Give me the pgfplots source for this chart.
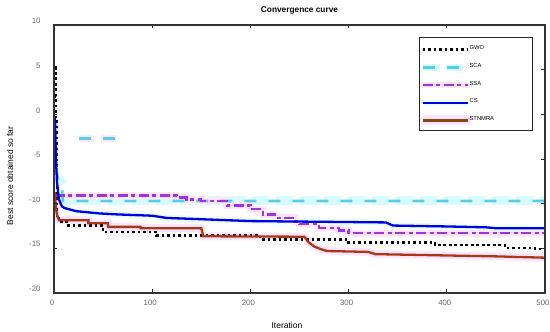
\documentclass[border=0pt]{standalone}
\usepackage{pgfplots}
\pgfplotsset{compat=1.18}
\usepackage{fontspec}
\setmainfont{Liberation Sans}
\definecolor{sca}{RGB}{85,205,235}
\definecolor{scahalo}{RGB}{215,252,255}
\definecolor{ssa}{RGB}{160,50,230}
\definecolor{pinkhalo}{RGB}{255,230,252}
\definecolor{cs}{RGB}{0,0,225}
\definecolor{cshalo}{RGB}{232,253,255}
\definecolor{stn}{RGB}{170,55,20}
\definecolor{stnleg}{RGB}{140,70,20}
\pgfplotsset{
  leggwo/.style={legend image code/.code={\path[use as bounding box, draw=none, fill=none] (0pt,-6pt) rectangle (45pt,6pt); \draw[##1] (0pt,-1pt)--(45pt,-1pt);}},
  legsca/.style={legend image code/.code={\path[use as bounding box, draw=none, fill=none] (0pt,-6pt) rectangle (45pt,6pt); \draw[scahalo, line width=7pt, dash pattern=on 17pt off 6pt] (0pt,-1pt)--(45pt,-1pt); \draw[##1] (0pt,-1pt)--(45pt,-1pt);}},
  legssa/.style={legend image code/.code={\path[use as bounding box, draw=none, fill=none] (0pt,-6pt) rectangle (45pt,6pt); \draw[pinkhalo, line width=6pt, solid] (0pt,-1pt)--(45pt,-1pt); \draw[##1] (0pt,-1pt)--(45pt,-1pt);}},
  legcs/.style={legend image code/.code={\path[use as bounding box, draw=none, fill=none] (0pt,-6pt) rectangle (45pt,6pt); \draw[cshalo, line width=6pt] (0pt,-1pt)--(45pt,-1pt); \draw[##1] (0pt,-1pt)--(45pt,-1pt);}},
  legstn/.style={legend image code/.code={\path[use as bounding box, draw=none, fill=none] (0pt,-6pt) rectangle (45pt,6pt); \draw[pinkhalo, line width=10pt] (0pt,-1pt)--(48pt,-1pt); \draw[##1, draw=stnleg] (0pt,-1pt)--(45pt,-1pt);}},
}
\begin{document}
\begin{tikzpicture}
\begin{axis}[
  at={(0,0)}, anchor=south west,
  scale only axis, width=491pt, height=268pt,
  xmin=0, xmax=500, ymin=-20, ymax=10,
  xtick={0,100,...,500}, ytick={-20,-15,...,10},
  tick align=inside, major tick length=3.5pt,
  axis line style={draw=black!80, line width=1.3pt},
  tick style={draw=black!85, line width=0.7pt},
  ticklabel style={font=\fontsize{7.8}{9}\selectfont, text=black!60},
  /pgf/number format/assume math mode=true,
  xticklabel style={yshift=-4pt, xshift=-2pt},
  yticklabel style={xshift=-10pt, yshift=4pt},
  title={\bfseries Convergence curve},
  title style={font=\fontsize{8.3}{9}\selectfont, at={(axis description cs:0.5,1)}, anchor=south, inner sep=0pt, yshift=5pt},
  xlabel={Iteration},
  xlabel style={font=\fontsize{8.5}{9}\selectfont, at={(axis description cs:0.4745,0)}, anchor=center, yshift=-32pt},
  ylabel={Best score obtained so far},
  ylabel style={font=\fontsize{8.5}{9}\selectfont, at={(axis description cs:-0.0896,0.437)}, anchor=center},
  legend style={at={(axis description cs:0.9756,0.955)}, anchor=north east,
    draw=black!85, line width=0.8pt, font=\fontsize{5.8}{7}\selectfont,
    inner xsep=3pt, inner ysep=5pt, row sep=5.75pt,
    nodes={inner ysep=0pt},
    /tikz/every even column/.append style={column sep=4pt}},
  legend cell align=left,
  axis on top,
]
% halos
\addplot[forget plot, scahalo, line width=9pt, dash pattern=on 17pt off 7pt, dash phase=2.5pt] coordinates {(9,-9.7)(500,-9.7)};
\addplot[forget plot, scahalo, line width=9pt] coordinates {(4,-7.0)(9,-7.9)};
\addplot[forget plot, pinkhalo, line width=7pt, dash pattern=on 17pt off 7pt, dash phase=2.5pt] coordinates {(25.5,-2.7)(63,-2.7)};
\addplot[forget plot, pinkhalo, line width=7pt, const plot] coordinates {(1,-9.1)(3,-9.08)(125,-9.3)(135,-9.53)(150,-9.7)(176,-10.2)(200,-10.6)(213,-11.2)(225,-11.6)(245,-12.0)(250,-12.3)(270,-12.7)(290,-13.0)(300,-13.3)(500,-13.3)};
\addplot[forget plot, cshalo, line width=6pt] coordinates {(1,-0.4)(2,-5)(3,-7.5)(5,-9.5)(8,-10.3)(11,-10.5)(23,-10.85)(47,-11.1)(64,-11.2)(100,-11.35)(115,-11.6)(140,-11.7)(200,-11.95)(338,-12.1)(345,-12.45)(400,-12.55)(440,-12.65)(450,-12.75)(500,-12.75)};
\addplot[forget plot, pinkhalo, line width=8pt] coordinates {(1,-8.7)(2,-10.5)(3,-11.2)(5,-11.85)(35,-11.85)(35,-12.2)(55,-12.2)(55,-12.6)(88,-12.6)(88,-12.75)(150,-12.75)(152,-13.65)(255,-13.7)(259,-14.3)(265,-14.8)(272,-15.1)(278,-15.3)(320,-15.4)(327,-15.65)(400,-15.8)(450,-15.9)(500,-16.05)};
% GWO
\addplot[black, line width=2.3pt, dash pattern=on 2.7pt off 2.8pt, const plot, leggwo]
  coordinates {(1,5.3)(1.5,2)(2,-0.5)(3,-11.4)(5,-12.0)(13,-12.44)(50,-13.15)(104,-13.55)(210,-14.0)(300,-14.34)(388,-14.64)(459,-14.94)(490,-15.05)(500,-15.05)};
\addlegendentry{\makebox[58pt][l]{GWO}}
% SCA
\addplot[sca, line width=2.6pt, dash pattern=on 12pt off 12pt, legsca]
  coordinates {(2,-6)(4,-7.2)(8,-7.8)(9,-9.7)(500,-9.7)};
\addlegendentry{SCA}
\addplot[forget plot, sca, line width=2.6pt, dash pattern=on 12pt off 12pt] coordinates {(25.5,-2.7)(63,-2.7)};
% SSA
\addplot[ssa, line width=2.3pt, dash pattern=on 10pt off 3.5pt on 4pt off 3.5pt, const plot, legssa]
  coordinates {(1,-9.1)(3,-9.08)(125,-9.3)(135,-9.53)(150,-9.7)(176,-10.2)(200,-10.6)(213,-11.2)(225,-11.6)(245,-12.0)(250,-12.3)(270,-12.7)(290,-13.0)(300,-13.3)(500,-13.3)};
\addlegendentry{SSA}
% CS
\addplot[cs, line width=2.3pt, legcs]
  coordinates {(1,-0.4)(2,-5)(3,-7.5)(5,-9.5)(8,-10.3)(11,-10.5)(23,-10.85)(47,-11.1)(64,-11.2)(100,-11.35)(115,-11.6)(140,-11.7)(200,-11.95)(338,-12.1)(345,-12.45)(400,-12.55)(440,-12.65)(450,-12.75)(500,-12.75)};
\addlegendentry{CS}
% STNMRA
\addplot[stn, line width=2.3pt, legstn]
  coordinates {(1,-8.7)(2,-10.5)(3,-11.2)(5,-11.85)(35,-11.85)(35,-12.2)(55,-12.2)(55,-12.6)(88,-12.6)(88,-12.75)(150,-12.75)(152,-13.65)(255,-13.7)(259,-14.3)(265,-14.8)(272,-15.1)(278,-15.3)(320,-15.4)(327,-15.65)(400,-15.8)(450,-15.9)(500,-16.05)};
\addlegendentry{STNMRA}
\end{axis}
\pgfresetboundingbox
\path[use as bounding box] (-54pt,-39pt) rectangle (496pt,293pt);
\end{tikzpicture}
\end{document}
